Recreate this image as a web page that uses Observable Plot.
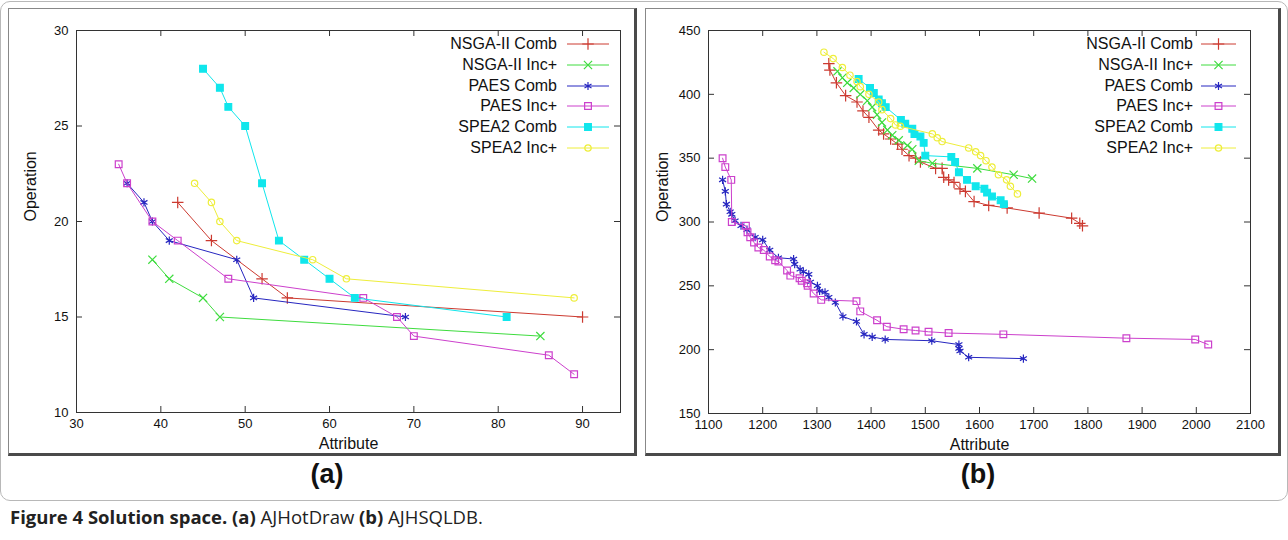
<!DOCTYPE html>
<html>
<head>
<meta charset="utf-8">
<script src="https://cdn.jsdelivr.net/npm/d3@7"></script>
<script src="https://cdn.jsdelivr.net/npm/@observablehq/plot@0.6"></script>
<style>
  body { margin: 0; background: #fff; }
  #page { position: relative; width: 1288px; height: 540px; overflow: hidden; font-family: "Liberation Sans", Arial, sans-serif; color: #111; }
  .outer { position: absolute; left: 0px; top: 1px; width: 1286px; height: 498px; border: 1px solid #b8b8b8; border-radius: 10px; }
  .frame { position: absolute; top: 8px; height: 448px; box-sizing: border-box; border: 1px solid #888; border-right: 3px solid #4a4a4a; border-bottom: 3px solid #4a4a4a; pointer-events: none; }
  .plotbox { position: absolute; top: 8px; }
  .plotbox svg { display: block; }
  .leg { position: absolute; font-size: 16px; line-height: 20px; text-align: right; white-space: nowrap; color: #111; }
  .legsvg { position: absolute; }
  .sub { position: absolute; top: 457px; font-size: 27px; font-weight: bold; width: 80px; text-align: center; line-height: 34px; }
  .caption { position: absolute; left: 10px; top: 504px; font-family: "Open Sans", "Liberation Sans", sans-serif; font-size: 18.5px; line-height: 26px; color: #222; white-space: nowrap; }
</style>
</head>
<body>
<div id="page">
  <div class="outer"></div>
  <div class="plotbox" id="plotA" style="left:8px"></div>
  <div class="plotbox" id="plotB" style="left:645px"></div>
  <div class="frame" style="left:8px;width:629px"></div>
  <div class="frame" style="left:645px;width:636px"></div>
  <div class="sub" style="left:287px">(a)</div>
  <div class="sub" style="left:938px">(b)</div>
  <div class="caption"><b>Figure 4 Solution space.</b> <b>(a)</b> AJHotDraw <b>(b)</b> AJHSQLDB.</div>
</div>
<script>
// ---------- series ----------
const seriesNames = ["NSGA-II Comb", "NSGA-II Inc+", "PAES Comb", "PAES Inc+", "SPEA2 Comb", "SPEA2 Inc+"];
const seriesColors = ["#cc3a30", "#3edc3e", "#2626c0", "#cc40cc", "#10e6ec", "#eeee3a"];
const seriesSymbols = ["plus", "times", "asterisk", "square", "square", "circle"];
const seriesFilled = [false, false, false, false, true, false];

// ---------- panel (a) AJHotDraw ----------
const aXTicks = [30, 40, 50, 60, 70, 80, 90];
const aYTicks = [10, 15, 20, 25, 30];
const aNsgaCombAttr = [42, 46, 52, 55, 90];
const aNsgaCombOp   = [21, 19, 17, 16, 15];
const aNsgaIncAttr  = [39, 41, 45, 47, 85];
const aNsgaIncOp    = [18, 17, 16, 15, 14];
const aPaesCombAttr = [36, 38, 39, 41, 49, 51, 69];
const aPaesCombOp   = [22, 21, 20, 19, 18, 16, 15];
const aPaesIncAttr  = [35, 36, 39, 42, 48, 64, 68, 70, 86, 89];
const aPaesIncOp    = [23, 22, 20, 19, 17, 16, 15, 14, 13, 12];
const aSpeaCombAttr = [45, 47, 48, 50, 52, 54, 57, 60, 63, 81];
const aSpeaCombOp   = [28, 27, 26, 25, 22, 19, 18, 17, 16, 15];
const aSpeaIncAttr  = [44, 46, 47, 49, 58, 62, 89];
const aSpeaIncOp    = [22, 21, 20, 19, 18, 17, 16];

// ---------- panel (b) AJHSQLDB ----------
const bXTicks = [1100, 1200, 1300, 1400, 1500, 1600, 1700, 1800, 1900, 2000, 2100];
const bYTicks = [150, 200, 250, 300, 350, 400, 450];
const bNsgaCombAttr = [1322, 1324, 1336, 1353, 1374, 1385, 1396, 1414, 1423, 1436, 1449, 1457, 1470, 1482, 1491, 1519, 1531, 1534, 1543, 1553, 1564, 1574, 1590, 1617, 1651, 1710, 1770, 1785, 1790];
const bNsgaCombOp   = [424, 419, 409, 399, 394, 387, 382, 372, 369, 365, 361, 357, 352, 350, 347, 342, 342, 335, 333, 331, 326, 324, 316, 313, 311, 307, 303, 299, 297];
const bNsgaIncAttr  = [1338, 1347, 1356, 1368, 1380, 1393, 1402, 1411, 1420, 1430, 1439, 1451, 1467, 1476, 1488, 1513, 1596, 1663, 1697];
const bNsgaIncOp    = [418, 413, 409, 405, 400, 395, 390, 384, 378, 372, 368, 364, 360, 357, 348, 346, 342, 337, 334];
const bPaesCombAttr = [1126, 1131, 1133, 1140, 1143, 1149, 1160, 1171, 1186, 1200, 1213, 1229, 1257, 1259, 1269, 1275, 1285, 1288, 1301, 1305, 1315, 1322, 1334, 1348, 1373, 1387, 1402, 1426, 1512, 1562, 1562, 1564, 1580, 1681];
const bPaesCombOp   = [333, 324, 314, 308, 306, 301, 297, 294, 288, 286, 278, 272, 271, 267, 263, 261, 259, 253, 250, 246, 245, 241, 237, 226, 222, 212, 210, 208, 207, 204, 201, 199, 194, 193];
const bPaesIncAttr  = [1126, 1131, 1142, 1143, 1169, 1172, 1177, 1184, 1192, 1202, 1213, 1223, 1229, 1245, 1251, 1268, 1272, 1282, 1283, 1294, 1308, 1373, 1380, 1411, 1429, 1460, 1482, 1506, 1543, 1644, 1871, 1998, 2022];
const bPaesIncOp    = [350, 343, 333, 300, 297, 292, 288, 284, 280, 278, 273, 270, 269, 262, 258, 256, 254, 252, 250, 244, 239, 238, 230, 223, 218, 216, 215, 214, 213, 212, 209, 208, 204];
const bSpeaCombAttr = [1377, 1398, 1405, 1414, 1420, 1427, 1455, 1463, 1476, 1480, 1491, 1497, 1500, 1548, 1555, 1562, 1577, 1593, 1609, 1614, 1623, 1639, 1645];
const bSpeaCombOp   = [412, 405, 401, 396, 393, 390, 380, 377, 373, 369, 367, 362, 352, 351, 347, 339, 333, 328, 326, 323, 320, 317, 314];
const bSpeaIncAttr  = [1313, 1330, 1347, 1361, 1374, 1380, 1396, 1414, 1420, 1436, 1445, 1454, 1513, 1522, 1531, 1580, 1593, 1602, 1612, 1623, 1635, 1650, 1657, 1670];
const bSpeaIncOp    = [433, 428, 421, 415, 410, 406, 400, 394, 388, 381, 376, 375, 369, 366, 363, 358, 355, 352, 348, 343, 337, 333, 328, 322];

function zipSeries(attrs, ops) {
  return attrs.map((xs, s) => xs.map((x, i) => ({x, y: ops[s][i], s})));
}

function makePanel(cfg) {
  const innerW = cfg.width - cfg.marginLeft - cfg.marginRight;
  const innerH = cfg.height - cfg.marginTop - cfg.marginBottom;
  const series = zipSeries(cfg.attrs, cfg.ops);
  const marks = [
    Plot.frame({stroke: "#333", strokeWidth: 1}),
    Plot.tickX(cfg.xTicks, {x: d => d, insetTop: innerH - 6, stroke: "#333"}),
    Plot.tickX(cfg.xTicks, {x: d => d, insetBottom: innerH - 6, stroke: "#333"}),
    Plot.tickY(cfg.yTicks, {y: d => d, insetRight: innerW - 6, stroke: "#333"}),
    Plot.tickY(cfg.yTicks, {y: d => d, insetLeft: innerW - 6, stroke: "#333"}),
    Plot.axisX({ticks: cfg.xTicks, tickSize: 0, tickPadding: 6, fontSize: 13, label: null, tickFormat: d => String(d)}),
    Plot.axisY({ticks: cfg.yTicks, tickSize: 0, tickPadding: 8, fontSize: 13, label: null, tickFormat: d => String(d)}),
    Plot.text(["Attribute"], {frameAnchor: "bottom", dy: 36, fontSize: 16, fill: "#111"}),
    Plot.text(["Operation"], {frameAnchor: "left", rotate: -90, dx: cfg.titleDx, fontSize: 16, fill: "#111"})
  ];
  series.forEach((pts, s) => {
    marks.push(Plot.line(pts, {x: "x", y: "y", stroke: seriesColors[s], strokeWidth: 1}));
    marks.push(Plot.dot(pts, {
      x: "x", y: "y", r: seriesSymbols[s] === "circle" ? 3.2 : 3.8,
      symbol: seriesSymbols[s],
      fill: seriesFilled[s] ? seriesColors[s] : "none",
      stroke: seriesColors[s], strokeWidth: 1.2
    }));
  });
  const chart = Plot.plot({
    width: cfg.width, height: cfg.height,
    marginLeft: cfg.marginLeft, marginRight: cfg.marginRight,
    marginTop: cfg.marginTop, marginBottom: cfg.marginBottom,
    x: {domain: cfg.xDomain},
    y: {domain: cfg.yDomain},
    style: {fontFamily: '"Liberation Sans", Arial, sans-serif', fontSize: "13px", color: "#111", background: "transparent", overflow: "visible"},
    marks
  });
  document.getElementById(cfg.id).appendChild(chart);
}

makePanel({
  id: "plotA", width: 628, height: 447,
  marginLeft: 68, marginRight: 16, marginTop: 22, marginBottom: 43,
  xDomain: [30, 94.5], yDomain: [10, 30], xTicks: aXTicks, yTicks: aYTicks, titleDx: -46,
  attrs: [aNsgaCombAttr, aNsgaIncAttr, aPaesCombAttr, aPaesIncAttr, aSpeaCombAttr, aSpeaIncAttr],
  ops: [aNsgaCombOp, aNsgaIncOp, aPaesCombOp, aPaesIncOp, aSpeaCombOp, aSpeaIncOp]
});
makePanel({
  id: "plotB", width: 635, height: 447,
  marginLeft: 63, marginRight: 30, marginTop: 22, marginBottom: 42,
  xDomain: [1100, 2100], yDomain: [150, 450], xTicks: bXTicks, yTicks: bYTicks, titleDx: -46,
  attrs: [bNsgaCombAttr, bNsgaIncAttr, bPaesCombAttr, bPaesIncAttr, bSpeaCombAttr, bSpeaIncAttr],
  ops: [bNsgaCombOp, bNsgaIncOp, bPaesCombOp, bPaesIncOp, bSpeaCombOp, bSpeaIncOp]
});

// ---------- legends ----------
const symbolTypes = {plus: d3.symbolPlus, times: d3.symbolTimes, asterisk: d3.symbolAsterisk, square: d3.symbolSquare, circle: d3.symbolCircle};
function addLegend(textRight, lineLeft, lineLen) {
  const page = document.getElementById("page");
  seriesNames.forEach((name, i) => {
    const cy = 44 + i * 20.8;
    const t = document.createElement("div");
    t.className = "leg";
    t.style.left = (textRight - 200) + "px";
    t.style.width = "200px";
    t.style.top = (cy - 10) + "px";
    t.textContent = name;
    page.appendChild(t);
    const svg = d3.select(page).append("svg").attr("class", "legsvg")
      .attr("width", lineLen).attr("height", 12)
      .style("left", lineLeft + "px").style("top", (cy - 6) + "px");
    svg.append("line").attr("x1", 0).attr("x2", lineLen).attr("y1", 6).attr("y2", 6)
      .attr("stroke", seriesColors[i]).attr("stroke-width", 1);
    const r = seriesSymbols[i] === "circle" ? 3.2 : 3.8;
    svg.append("path").attr("transform", `translate(${lineLen / 2},6)`)
      .attr("d", d3.symbol(symbolTypes[seriesSymbols[i]], Math.PI * r * r)())
      .attr("fill", seriesFilled[i] ? seriesColors[i] : "none")
      .attr("stroke", seriesColors[i]).attr("stroke-width", 1.2);
  });
}
addLegend(557, 567, 42);
addLegend(1193, 1201, 35);
</script>
</body>
</html>
